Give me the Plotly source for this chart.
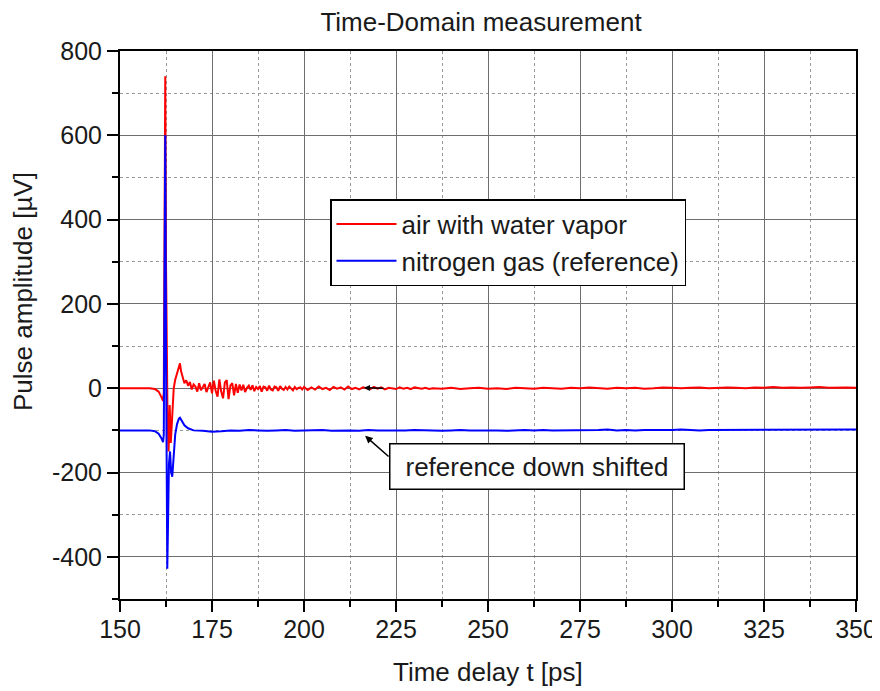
import numpy as np
import plotly.graph_objects as go

# ---------------- data ----------------
# air with water vapor (red) - pulse region
red_pulse_t = [150, 155, 158, 159.5, 160.5, 161.2, 161.7, 161.9, 162.1, 162.3, 162.5, 162.7,
               162.9, 163.2, 163.5, 163.8, 164.2, 164.6, 165.0, 165.5, 166.0, 166.3, 166.6]
red_pulse_v = [0, 0, 0, -2, -8, -20, -30, -10, 400, 740, 300, 50,
               -60, -150, -40, -130, -60, 0, 20, 35, 55, 59, 40]
# ringing after the pulse, sampled every 0.5 ps starting at 167 ps
red_ring_v = [25, 12, 19, 6, 15, -3, 9, 4, -8, 12, -5, 3, 10, -9,
              2, 14, -12, 18, -6, -20, 21, -8, -24, 14, 19, -26, 6, 12, -17, 10,
              -11, 9, -5, 8, -9, 1, 6, -4, 7, -7, 3, -2, 5, -8, 4, 2, -6, 6, -3, -5,
              4, 2, -6, 5, -1, -4, 3, -3, 4, 0, -5, 3, -2, 1, 2, -3]
# residual noise, every 1 ps starting at 200 ps
red_tail_v = [3, -4, 2, -3, 4, -2, 1, -4, 3, -1, 2, -3, 4, -2, 1, -3, 2, 0, -2, 3,
              -1, 2, -3, 1, 0, -2, 2, -1, 1, -2, 2, 0, -1, 1, -2]
# flat part, every 2.5 ps starting at 235 ps
red_far_v = [0, -1, 1, -2, 0, 1, -1, 0, -2, 1, 0, -1, 1, 0, -1, 1, 0, 2, 0, -1,
             1, 0, 1, -1, 0, 2, 1, 0, 1, 2, 0, 1, 2, 1, 0, 2, 1, 3, 1, 2,
             1, 2, 3, 1, 2, 2, 1]

# nitrogen gas (reference, blue) - pulse region
blue_pulse_t = [150, 155, 158, 159.5, 160.5, 161.2, 161.7, 161.9, 162.1, 162.3, 162.5, 162.7,
                162.85, 163.0, 163.3, 163.6, 163.9, 164.2, 164.5, 165.0, 165.5, 166.0, 166.3,
                166.8, 167.5, 168.5, 169.5]
blue_pulse_v = [-100, -100, -100, -102, -108, -118, -128, -110, 300, 600, 100, -300,
                -428, -350, -180, -150, -200, -210, -160, -110, -85, -72, -70,
                -78, -88, -95, -99]
# tail, every 2.5 ps starting at 170 ps
blue_tail_v = [-100, -101, -103, -102, -100, -101, -99, -100, -101, -100, -99, -101, -100,
               -100, -99, -101, -100, -100, -101, -99, -100, -100, -101, -100, -99, -100,
               -100, -101, -100, -99, -100, -100, -99, -100, -101, -100, -99, -100, -99,
               -100, -100, -99, -100, -100, -99, -98, -100, -99, -100, -99, -99, -100,
               -99, -98, -99, -100, -99, -99, -98, -99, -99, -98, -99, -99, -98, -99,
               -98, -99, -98, -98, -99, -98, -98]

x_ticks = [150, 175, 200, 225, 250, 275, 300, 325, 350]
y_ticks = [-400, -200, 0, 200, 400, 600, 800]

red_t = (red_pulse_t + list(167 + 0.5 * np.arange(len(red_ring_v)))
         + list(200 + 1.0 * np.arange(len(red_tail_v)))
         + list(235 + 2.5 * np.arange(len(red_far_v))))
red_v = red_pulse_v + red_ring_v + red_tail_v + red_far_v
blue_t = blue_pulse_t + list(170 + 2.5 * np.arange(len(blue_tail_v)))
blue_v = blue_pulse_v + blue_tail_v

FONT = "Arial, Liberation Sans, sans-serif"
TXT = "#1a1a1a"

# the page adds an 8px body margin, so the figure is 8px smaller than the window
FIG_W, FIG_H = 872, 683

fig = go.Figure()
fig.add_trace(go.Scatter(x=red_t, y=red_v, mode="lines", name="air with water vapor",
                         line=dict(color="#ff0000", width=2)))
fig.add_trace(go.Scatter(x=blue_t, y=blue_v, mode="lines", name="nitrogen gas (reference)",
                         line=dict(color="#0000ff", width=2)))

axis_common = dict(
    showline=True, linecolor="black", linewidth=2, mirror=True,
    ticks="outside", ticklen=11, tickwidth=1.5, tickcolor="black",
    showgrid=True, gridcolor="#6e6e6e", gridwidth=1,
    zeroline=False, automargin=False,
    tickfont=dict(family=FONT, size=25, color=TXT),
)

fig.update_xaxes(range=[150, 350], tickvals=x_ticks, ticktext=[str(v) for v in x_ticks],
                 ticklabelstandoff=-4,
                 minor=dict(dtick=12.5, tick0=150, ticks="outside", ticklen=6, tickwidth=1.5,
                            tickcolor="black", showgrid=True, gridcolor="#999999",
                            griddash="dot", gridwidth=1),
                 **axis_common)
fig.update_yaxes(range=[-500, 800], tickvals=y_ticks, ticktext=[str(v) for v in y_ticks],
                 ticklabelstandoff=0,
                 minor=dict(dtick=100, tick0=0, ticks="outside", ticklen=6, tickwidth=1.5,
                            tickcolor="black", showgrid=True, gridcolor="#999999",
                            griddash="dot", gridwidth=1),
                 **axis_common)

# axis titles placed like the reference
fig.add_annotation(text="Time delay t [ps]", xref="paper", yref="paper",
                   x=0.5, y=-73 / 548, xanchor="center", yanchor="middle", showarrow=False,
                   font=dict(family=FONT, size=26, color=TXT))
fig.add_annotation(text="Pulse amplitude [µV]", textangle=-90, xref="paper", yref="paper",
                   x=-97 / 736, y=(599 - 292) / 548, xanchor="center", yanchor="middle",
                   showarrow=False, font=dict(family=FONT, size=26, color=TXT))

# annotation box with arrow to the blue line
fig.add_annotation(text="reference down shifted", x=263.4, y=-186, xref="x", yref="y",
                   showarrow=False, bgcolor="white", bordercolor="black", borderwidth=1.5,
                   borderpad=7, width=279, font=dict(family=FONT, size=26, color=TXT))
fig.add_annotation(text="", x=216.6, y=-113, ax=223.4, ay=-165, xref="x", yref="y",
                   axref="x", ayref="y", showarrow=True, arrowhead=2, arrowsize=1,
                   arrowwidth=1.5, arrowcolor="black")
# small arrow on the red line
fig.add_annotation(text="", x=216.3, y=1, ax=222, ay=0, xref="x", yref="y",
                   axref="x", ayref="y", showarrow=True, arrowhead=2, arrowsize=0.8,
                   arrowwidth=1.5, arrowcolor="black")

fig.update_layout(
    width=FIG_W, height=FIG_H,
    margin=dict(l=112, r=24, t=43, b=92, autoexpand=False),
    paper_bgcolor="white", plot_bgcolor="white",
    title=dict(text="Time-Domain measurement", x=473 / FIG_W, xanchor="center",
               y=1 - 14 / FIG_H, yanchor="middle", font=dict(family=FONT, size=26, color=TXT)),
    showlegend=True,
    legend=dict(x=(330 - 120) / 736, y=(599 - 199) / 548, xanchor="left", yanchor="top",
                bgcolor="white", bordercolor="black", borderwidth=1.5,
                font=dict(family=FONT, size=26, color=TXT),
                itemwidth=60, tracegroupgap=0, entrywidth=300, entrywidthmode="pixels"),
)

fig.write_html("out.html")
